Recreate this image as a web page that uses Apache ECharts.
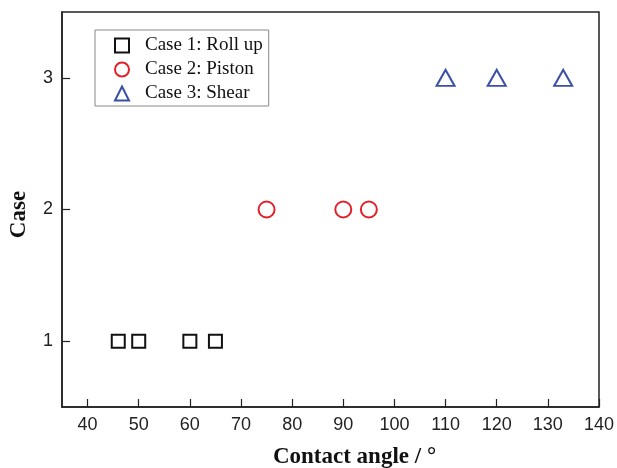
<!DOCTYPE html>
<html>
<head>
<meta charset="utf-8">
<script src="https://cdn.jsdelivr.net/npm/echarts@6/dist/echarts.min.js"></script>
<style>html,body{margin:0;padding:0;background:#fff;}#c{width:617px;height:468px;}</style>
</head>
<body>
<div id="c"></div>
<script>
var seriesNames = ['Case 1: Roll up', 'Case 2: Piston', 'Case 3: Shear'];
var case1Angles = [46, 50, 60, 65];
var case2Angles = [75, 90, 95];
var case3Angles = [110, 120, 133];
var caseValues = [1, 2, 3];
var xTickValues = [40, 50, 60, 70, 80, 90, 100, 110, 120, 130, 140];
var colors = ['#111111', '#e5202a', '#3a4fa5'];

function pts(arr, y) { return arr.map(function (x) { return [x, y]; }); }

var chart = echarts.init(document.getElementById('c'), null, {renderer: 'canvas'});
var symbols = ['rect', 'circle', 'triangle'];
var sizes = [13, 16, [18, 16]];
var datas = [pts(case1Angles, caseValues[0]), pts(case2Angles, caseValues[1]), pts(case3Angles, caseValues[2])];

chart.setOption({
  animation: false,
  grid: {left: 62, right: 18, top: 12, bottom: 61, outerBoundsMode: 'none', containLabel: false,
    show: true, borderColor: '#222', borderWidth: 1.5},
  legend: {
    orient: 'vertical', left: 95, top: 30,
    padding: [6, 6, 3, 19], itemGap: 5,
    borderColor: '#888', borderWidth: 1,
    itemWidth: 14, itemHeight: 14,
    textStyle: {fontFamily: 'Liberation Serif', fontSize: 19, color: '#111', padding: [0, 0, 0, 11]},
    data: seriesNames.map(function (n, i) {
      return {name: n, icon: symbols[i], itemStyle: {color: 'rgba(0,0,0,0)', borderColor: colors[i], borderWidth: 2}};
    })
  },
  xAxis: {
    type: 'value', min: 35, max: 140, interval: 5,
    name: 'Contact angle / °', nameLocation: 'middle', nameGap: 39,
    nameTextStyle: {fontFamily: 'Liberation Serif', fontSize: 23, fontWeight: 'bold', color: '#111',
      padding: [0, 0, 0, 48]},
    axisLine: {show: true, lineStyle: {color: '#222', width: 1.5}},
    axisTick: {show: true, inside: true, length: 8, lineStyle: {color: '#222', width: 1.2},
      customValues: xTickValues},
    axisLabel: {fontFamily: 'Liberation Sans', fontSize: 18, color: '#222', margin: 9,
      customValues: xTickValues},
    splitLine: {show: false}
  },
  yAxis: {
    type: 'value', min: 0.5, max: 3.5, interval: 0.5,
    name: 'Case', nameLocation: 'middle', nameGap: 31,
    nameTextStyle: {fontFamily: 'Liberation Serif', fontSize: 23, fontWeight: 'bold', color: '#111',
      padding: [0, 10, 0, 0]},
    axisLine: {show: true, lineStyle: {color: '#222', width: 1.5}},
    axisTick: {show: true, inside: true, length: 8, lineStyle: {color: '#222', width: 1.2},
      customValues: caseValues},
    axisLabel: {fontFamily: 'Liberation Sans', fontSize: 18, color: '#222', margin: 9,
      customValues: caseValues},
    splitLine: {show: false}
  },
  series: seriesNames.map(function (n, i) {
    return {
      name: n, type: 'scatter', symbol: symbols[i], symbolSize: sizes[i],
      itemStyle: {color: 'rgba(0,0,0,0)', borderColor: colors[i], borderWidth: 2, opacity: 1},
      data: datas[i]
    };
  })
});
</script>
</body>
</html>
